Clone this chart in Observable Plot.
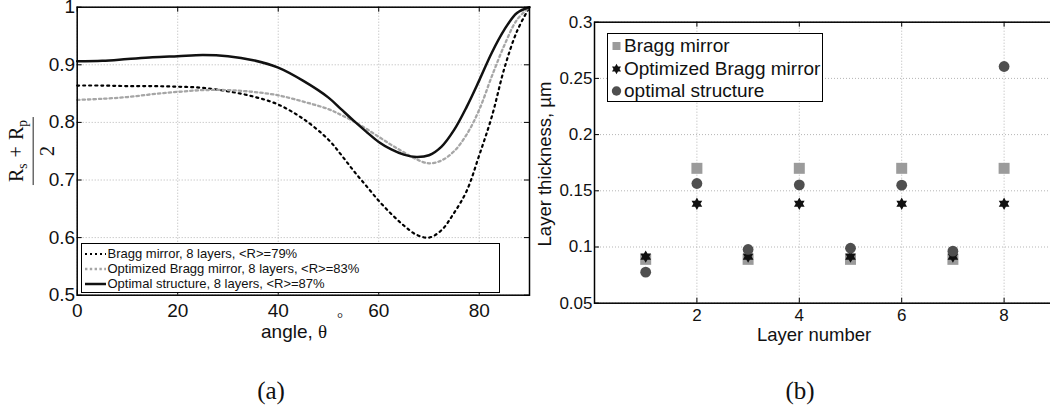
<!DOCTYPE html>
<html><head><meta charset="utf-8">
<script src="https://cdn.jsdelivr.net/npm/d3@7"></script>
<script src="https://cdn.jsdelivr.net/npm/@observablehq/plot@0.6"></script>
<style>
html,body{margin:0;padding:0;background:#fff;}
body{width:1050px;height:408px;overflow:hidden;position:relative;font-family:"Liberation Sans",Arial,sans-serif;color:#111;}
.abs{position:absolute;white-space:nowrap;line-height:1;}
.serif{font-family:"Liberation Serif","Times New Roman",serif;}
.leg{position:absolute;background:#fff;border:1.3px solid #000;box-sizing:border-box;}
.row{position:absolute;left:0;height:0;}
.row svg{position:absolute;overflow:visible;}
.row span{position:absolute;white-space:nowrap;line-height:1;}
#left svg,#right svg{max-width:none !important;}
</style></head><body>
<div id="left" class="abs" style="left:0;top:0;width:530px;"></div>
<div id="right" class="abs" style="left:530px;top:0;width:530px;"></div>

<div class="abs serif" style="left:31px;top:151px;transform:translate(-50%,-50%) rotate(-90deg);font-size:20px;text-align:center;">
  <div style="border-bottom:1.2px solid #222;padding:0 3px 3px;">R<sub style="font-size:0.68em;vertical-align:-0.3em">s</sub><span style="margin:0 0.3em">+</span>R<sub style="font-size:0.68em;vertical-align:-0.3em">p</sub></div>
  <div style="padding-top:3px;">2</div>
</div>
<div class="abs" style="left:545px;top:164px;transform:translate(-50%,-50%) rotate(-90deg);font-size:18.5px;">Layer thickness, µm</div>

<div class="abs" style="left:261px;top:322px;font-size:19px;">angle, <span class="serif">θ</span></div>
<div class="abs serif" style="left:337px;top:311px;font-size:15px;">°</div>
<div class="abs" style="left:757px;top:328px;font-size:18.5px;line-height:0.75;">Layer number</div>
<div class="abs serif" style="left:271px;top:390px;transform:translate(-50%,-50%);font-size:25px;">(a)</div>
<div class="abs serif" style="left:800px;top:390px;transform:translate(-50%,-50%);font-size:25px;">(b)</div>

<div id="legL" class="leg" style="left:81px;top:243px;width:419px;height:50px;font-size:13px;"></div>
<div id="legR" class="leg" style="left:607px;top:33px;width:216px;height:69px;font-size:19px;"></div>

<script>
// ---------- panel (a) data ----------
const angles = [0,5,10,15,20,25,30,35,40,45,50,52.5,55,57.5,60,62.5,65,67.5,70,72.5,75,77.5,80,82.5,85,87.5,90];
const braggR = [0.864,0.864,0.863,0.863,0.862,0.860,0.854,0.845,0.831,0.806,0.770,0.744,0.716,0.690,0.664,0.641,0.621,0.605,0.600,0.613,0.643,0.681,0.743,0.810,0.894,0.958,1.0];
const optimizedR = [0.839,0.841,0.844,0.849,0.853,0.856,0.856,0.853,0.847,0.836,0.823,0.813,0.802,0.789,0.775,0.761,0.748,0.736,0.729,0.734,0.750,0.779,0.822,0.880,0.934,0.978,1.0];
const optimalR = [0.906,0.907,0.910,0.913,0.915,0.917,0.915,0.908,0.895,0.872,0.843,0.823,0.803,0.784,0.766,0.753,0.744,0.740,0.743,0.758,0.787,0.827,0.873,0.921,0.961,0.990,1.0];
const angleTicks = [0,20,40,60,80];
const rTicks = [0.5,0.6,0.7,0.8,0.9,1];
const seriesA = ["Bragg mirror, 8 layers, <R>=79%","Optimized Bragg mirror, 8 layers, <R>=83%","Optimal structure, 8 layers, <R>=87%"];

// ---------- panel (b) data ----------
const layers = [1,2,3,4,5,6,7,8];
const braggT = [0.089,0.170,0.089,0.170,0.089,0.170,0.089,0.170];
const optimizedT = [0.0915,0.1385,0.0915,0.1385,0.0915,0.1385,0.0915,0.1385];
const optimalT = [0.0776,0.1565,0.0978,0.1553,0.0989,0.1550,0.0963,0.2606];
const layerTicks = [2,4,6,8];
const tTicks = [0.05,0.1,0.15,0.2,0.25,0.3];
const seriesB = ["Bragg mirror","Optimized Bragg mirror","optimal structure"];

const hexagram = {
  draw(context, size) {
    const R = Math.sqrt(size / Math.PI) * 1.1, r = R / Math.sqrt(3);
    for (let i = 0; i < 12; i++) {
      const a = (-90 + 30 * i) * Math.PI / 180, rr = i % 2 ? r : R;
      const x = rr * Math.cos(a), y = rr * Math.sin(a);
      if (i === 0) context.moveTo(x, y); else context.lineTo(x, y);
    }
    context.closePath();
  }
};

const fmt = d => String(d);
const baseStyle = {fontFamily:"Liberation Sans, Arial, sans-serif", color:"#111", background:"transparent", overflow:"visible", maxWidth:"none"};

// ---------- panel (a) ----------
{
  const W = 530, H = 325, mt = 6.7, mb = H - 294.7, ml = 76.7, mr = 1;
  const ih = H - mt - mb, iw = W - ml - mr;
  const idx = angles.map((_, i) => i);
  const chart = Plot.plot({
    width: W, height: H, marginTop: mt, marginBottom: mb, marginLeft: ml, marginRight: mr,
    style: {...baseStyle, fontSize: "19px"},
    x: {domain: [0, 90], ticks: angleTicks, tickSize: 0, tickPadding: 8, tickFormat: fmt, label: null},
    y: {domain: [0.5, 1], ticks: rTicks, tickSize: 0, tickPadding: 2, tickFormat: fmt, label: null},
    marks: [
      Plot.ruleX(angleTicks, {x: d => d, stroke: "#b5b5b5", strokeDasharray: "1,2"}),
      Plot.ruleY(rTicks, {y: d => d, stroke: "#b5b5b5", strokeDasharray: "1,2"}),
      Plot.tickX(angleTicks, {x: d => d, stroke: "#000", insetTop: ih - 5}),
      Plot.tickX(angleTicks, {x: d => d, stroke: "#000", insetBottom: ih - 5}),
      Plot.tickY(rTicks, {y: d => d, stroke: "#000", insetRight: iw - 5}),
      Plot.tickY(rTicks, {y: d => d, stroke: "#000", insetLeft: iw - 5}),
      Plot.line(idx, {x: i => angles[i], y: i => braggR[i], curve: "catmull-rom", stroke: "#000", strokeWidth: 2.2, strokeDasharray: "2,4"}),
      Plot.line(idx, {x: i => angles[i], y: i => optimizedR[i], curve: "catmull-rom", stroke: "#a6a6a6", strokeWidth: 2.3, strokeDasharray: "2.4,3"}),
      Plot.line(idx, {x: i => angles[i], y: i => optimalR[i], curve: "catmull-rom", stroke: "#111", strokeWidth: 2.5}),
      Plot.frame({stroke: "#000", strokeWidth: 1.5})
    ]
  });
  document.getElementById("left").appendChild(chart);
}

// ---------- panel (b) ----------
{
  const W = 530, H = 330, mt = 21.7, mb = H - 302.7, ml = 64, mr = 5.2;
  const ih = H - mt - mb, iw = W - ml - mr;
  const chart = Plot.plot({
    width: W, height: H, marginTop: mt, marginBottom: mb, marginLeft: ml, marginRight: mr,
    style: {...baseStyle, fontSize: "17px"},
    x: {domain: [0, 9], ticks: layerTicks, tickSize: 0, tickPadding: 6, tickFormat: fmt, label: null},
    y: {domain: [0.05, 0.3], ticks: tTicks, tickSize: 0, tickPadding: 2, tickFormat: fmt, label: null},
    marks: [
      Plot.ruleX(layerTicks, {x: d => d, stroke: "#b5b5b5", strokeDasharray: "1,2"}),
      Plot.ruleY(tTicks, {y: d => d, stroke: "#b5b5b5", strokeDasharray: "1,2"}),
      Plot.tickX(layerTicks, {x: d => d, stroke: "#000", insetTop: ih - 5}),
      Plot.tickX(layerTicks, {x: d => d, stroke: "#000", insetBottom: ih - 5}),
      Plot.tickY(tTicks, {y: d => d, stroke: "#000", insetRight: iw - 5}),
      Plot.dot(layers, {x: d => d, y: (d, i) => braggT[i], symbol: "square", r: 6.2, fill: "#9b9b9b", stroke: "none"}),
      Plot.dot(layers, {x: d => d, y: (d, i) => optimizedT[i], symbol: hexagram, r: 5.6, fill: "#111", stroke: "none"}),
      Plot.dot(layers, {x: d => d, y: (d, i) => optimalT[i], symbol: "circle", r: 5.4, fill: "#4f4f4f", stroke: "none"}),
      Plot.frame({stroke: "#000", strokeWidth: 1.5})
    ]
  });
  document.getElementById("right").appendChild(chart);
}

// ---------- legends ----------
{
  const L = document.getElementById("legL");
  const styles = [
    {stroke: "#000", w: 2.2, dash: "2,3"},
    {stroke: "#a6a6a6", w: 2.3, dash: "2.4,2.4"},
    {stroke: "#111", w: 2.5, dash: null}
  ];
  const ys = [9.5, 24.7, 39.7];
  seriesA.forEach((t, i) => {
    const row = document.createElement("div");
    row.className = "row"; row.style.top = ys[i] + "px";
    const s = styles[i];
    row.innerHTML = `<svg width="30" height="4" style="left:3px;top:-2px"><line x1="0" y1="2" x2="21" y2="2" stroke="${s.stroke}" stroke-width="${s.w}" ${s.dash ? `stroke-dasharray="${s.dash}"` : ""}/></svg>`;
    const sp = document.createElement("span");
    sp.textContent = t; sp.style.left = "25.5px"; sp.style.top = "-6.8px";
    row.appendChild(sp);
    L.appendChild(row);
  });

  const Rl = document.getElementById("legR");
  const ysR = [12.2, 35.2, 57];
  const star = (() => {
    const R = 5.2, r = R / Math.sqrt(3); let p = "";
    for (let i = 0; i < 12; i++) {
      const a = (-90 + 30 * i) * Math.PI / 180, rr = i % 2 ? r : R;
      p += (i ? "L" : "M") + (rr * Math.cos(a)).toFixed(2) + "," + (rr * Math.sin(a)).toFixed(2);
    }
    return p + "Z";
  })();
  const markers = [
    `<rect x="-4" y="-4" width="8" height="8" fill="#9b9b9b"/>`,
    `<path d="${star}" fill="#111"/>`,
    `<circle r="4.7" fill="#4f4f4f"/>`
  ];
  seriesB.forEach((t, i) => {
    const row = document.createElement("div");
    row.className = "row"; row.style.top = ysR[i] + "px";
    row.innerHTML = `<svg width="20" height="20" style="left:-1px;top:-10px"><g transform="translate(9.5,10)">${markers[i]}</g></svg>`;
    const sp = document.createElement("span");
    sp.textContent = t; sp.style.left = "16px"; sp.style.top = "-10px";
    row.appendChild(sp);
    Rl.appendChild(row);
  });
}
</script>
</body></html>
